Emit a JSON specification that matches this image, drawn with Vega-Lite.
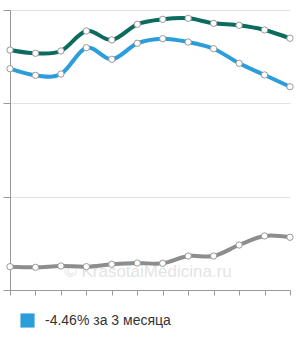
{
  "$schema": "https://vega.github.io/schema/vega-lite/v6.json",
  "width": 280,
  "height": 280,
  "autosize": {"type": "none"},
  "padding": {"left": 10, "top": 10, "right": 10, "bottom": 50},
  "background": "white",
  "config": {"view": {"stroke": null}, "font": "Liberation Sans"},
  "datasets": {
    "series": [
      {"i": 0, "v": 2.571, "s": "зелёная"}, {"i": 1, "v": 2.536, "s": "зелёная"}, {"i": 2, "v": 2.561, "s": "зелёная"}, {"i": 3, "v": 2.775, "s": "зелёная"},
      {"i": 4, "v": 2.679, "s": "зелёная"}, {"i": 5, "v": 2.847, "s": "зелёная"}, {"i": 6, "v": 2.9, "s": "зелёная"}, {"i": 7, "v": 2.911, "s": "зелёная"},
      {"i": 8, "v": 2.857, "s": "зелёная"}, {"i": 9, "v": 2.836, "s": "зелёная"}, {"i": 10, "v": 2.786, "s": "зелёная"}, {"i": 11, "v": 2.697, "s": "зелёная"},
      {"i": 0, "v": 2.371, "s": "-4.46% за 3 месяца"}, {"i": 1, "v": 2.3, "s": "-4.46% за 3 месяца"}, {"i": 2, "v": 2.314, "s": "-4.46% за 3 месяца"}, {"i": 3, "v": 2.596, "s": "-4.46% за 3 месяца"},
      {"i": 4, "v": 2.472, "s": "-4.46% за 3 месяца"}, {"i": 5, "v": 2.643, "s": "-4.46% за 3 месяца"}, {"i": 6, "v": 2.693, "s": "-4.46% за 3 месяца"}, {"i": 7, "v": 2.657, "s": "-4.46% за 3 месяца"},
      {"i": 8, "v": 2.585, "s": "-4.46% за 3 месяца"}, {"i": 9, "v": 2.429, "s": "-4.46% за 3 месяца"}, {"i": 10, "v": 2.304, "s": "-4.46% за 3 месяца"}, {"i": 11, "v": 2.178, "s": "-4.46% за 3 месяца"},
      {"i": 0, "v": 0.25, "s": "серая"}, {"i": 1, "v": 0.243, "s": "серая"}, {"i": 2, "v": 0.257, "s": "серая"}, {"i": 3, "v": 0.25, "s": "серая"},
      {"i": 4, "v": 0.275, "s": "серая"}, {"i": 5, "v": 0.289, "s": "серая"}, {"i": 6, "v": 0.286, "s": "серая"}, {"i": 7, "v": 0.364, "s": "серая"},
      {"i": 8, "v": 0.364, "s": "серая"}, {"i": 9, "v": 0.482, "s": "серая"}, {"i": 10, "v": 0.579, "s": "серая"}, {"i": 11, "v": 0.565, "s": "серая"}
    ],
    "mark": [{"i": 5.42, "v": 0.19, "t": "© KrasotaiMedicina.ru"}]
  },
  "encoding": {
    "x": {"field": "i", "type": "quantitative", "scale": {"domain": [0, 11], "nice": false, "zero": false},
      "axis": {"title": null, "labels": false, "grid": false, "values": [0,1,2,3,4,5,6,7,8,9,10,11], "tickSize": 5, "tickColor": "#999", "domainColor": "#999", "tickWidth": 1}},
    "y": {"field": "v", "type": "quantitative", "scale": {"domain": [0, 3], "nice": false},
      "axis": {"title": null, "labels": false, "values": [0, 1, 2, 3], "grid": true, "gridColor": "#e2e2e2", "tickSize": 7, "tickColor": "#999", "domainColor": "#999"}}
  },
  "layer": [
    {
      "data": {"name": "mark"},
      "mark": {"type": "text", "fontSize": 17, "color": "#e4e4e4", "font": "Liberation Sans"},
      "encoding": {"text": {"field": "t"}}
    },
    {
      "data": {"name": "series"},
      "mark": {"type": "line", "interpolate": "cardinal", "strokeWidth": 4},
      "encoding": {
        "color": {"field": "s", "type": "nominal",
          "scale": {"domain": ["зелёная", "-4.46% за 3 месяца", "серая"], "range": ["#0a6b5e", "#2b9ddb", "#8d8d8d"]},
          "legend": {"values": ["-4.46% за 3 месяца"], "title": null, "orient": "none", "legendX": 10, "legendY": 303,
            "symbolType": "square", "symbolSize": 200, "symbolStrokeWidth": 0, "symbolFillColor": "#2b9ddb", "symbolOpacity": 1,
            "labelFontSize": 14, "labelColor": "#333", "labelFont": "Liberation Sans", "labelOffset": 10}
        },
        "detail": {"field": "s"}
      }
    },
    {
      "data": {"name": "series"},
      "mark": {"type": "point", "filled": true, "fill": "white", "stroke": "#9a9a9a", "strokeWidth": 1, "size": 40, "opacity": 1},
      "encoding": {"detail": {"field": "s"}}
    }
  ]
}
